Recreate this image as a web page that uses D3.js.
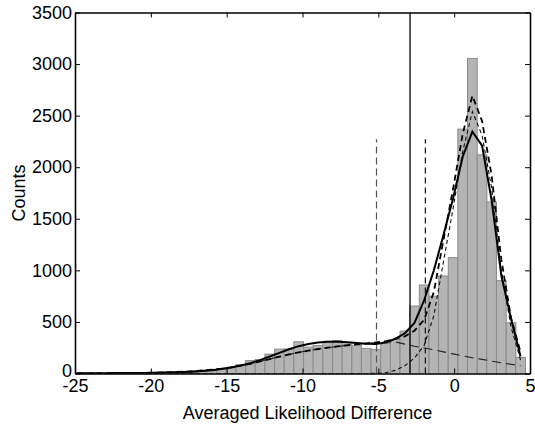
<!DOCTYPE html>
<html><head><meta charset="utf-8">
<script src="https://cdn.jsdelivr.net/npm/d3@7"></script>
<style>
html,body{margin:0;padding:0;background:#fff;}
svg{display:block;font-family:"Liberation Sans",Arial,Helvetica,sans-serif;}
</style></head>
<body><svg id="c" width="535" height="428"></svg>
<script>
// ---- data ----
const binCenters = [-24.89,-24.25,-23.62,-22.98,-22.34,-21.71,-21.07,-20.43,-19.80,-19.16,-18.52,-17.89,-17.25,-16.61,-15.98,-15.34,-14.71,-14.07,-13.43,-12.80,-12.16,-11.52,-10.89,-10.25,-9.61,-8.98,-8.34,-7.70,-7.07,-6.43,-5.80,-5.16,-4.52,-3.89,-3.25,-2.62,-1.98,-1.34,-0.71,-0.07,0.56,1.20,1.84,2.47,3.11,3.75,4.38];
const binWidth = 0.637;
const counts = [1,1,1,2,2,3,3,4,6,7,10,12,16,22,30,40,55,85,125,135,188,236,238,308,256,272,312,320,285,272,244,233,290,330,411,654,858,750,945,1123,2369,3055,2120,1663,900,492,155];
// overall fit (solid)
const fitSolid = [2,2,3,3,4,4,5,5,7,9,11,14,18,24,32,43,58,77,100,130,165,200,235,265,285,300,308,308,302,295,289,287,300,335,390,490,710,1000,1340,1700,2100,2345,2210,1680,950,530,165];
// mixture total (thick dashed)
const fitTotal = [1,1,2,2,3,4,5,6,8,10,13,17,22,29,37,47,60,76,95,117,140,163,185,205,222,237,250,262,273,283,292,301,312,336,360,415,520,790,1290,1790,2320,2693,2447,1920,1104,539,205];
// broad component (long dashed)
const fitBroad = [1,1,2,2,3,4,5,6,8,10,13,17,22,29,37,47,60,76,95,117,140,163,185,205,222,237,250,262,273,283,292,299,304,306,285,265,248,230,210,190,170,153,137,120,104,89,75];
// narrow component (thin dashed)
const fitNarrow = [0,0,0,0,0,0,0,0,0,0,0,0,0,0,0,0,0,0,0,0,0,0,0,0,0,0,0,0,0,0,0,2,8,30,75,150,272,560,1080,1600,2150,2540,2310,1800,1000,450,130];
const dashedMarkers = [-5.12, -1.9];
const dashedMarkerTop = 2270;
const solidMarker = -2.91;
const xTicks = [-25,-20,-15,-10,-5,0,5];
const yTicks = [0,500,1000,1500,2000,2500,3000,3500];
const xLabel = "Averaged Likelihood Difference";
const yLabel = "Counts";

// ---- layout ----
const L = 75, R = 530, T = 12.5, B = 373.5;
const svg = d3.select("#c");
const x = d3.scaleLinear().domain([-25,5]).range([L,R]);
const y = d3.scaleLinear().domain([0,3500]).range([B,T]);

svg.append("defs").append("clipPath").attr("id","clip")
  .append("rect").attr("x",L).attr("y",T).attr("width",R-L).attr("height",B-T);
const g = svg.append("g").attr("clip-path","url(#clip)");

// bars
g.selectAll("rect.bar").data(binCenters).join("rect")
  .attr("class","bar")
  .attr("x", d => x(d - binWidth/2))
  .attr("width", d => x(d + binWidth/2) - x(d - binWidth/2))
  .attr("y", (d,i) => y(counts[i]))
  .attr("height", (d,i) => y(0) - y(counts[i]))
  .attr("fill","#b4b4b4").attr("stroke","#8a8a8a").attr("stroke-width",1);

const line = vals => d3.line().x((d,i)=>x(binCenters[i])).y(d=>y(d))(vals);

// vertical markers
g.append("line").attr("x1",x(solidMarker)).attr("x2",x(solidMarker))
  .attr("y1",y(0)).attr("y2",y(3500)).attr("stroke","#000").attr("stroke-width",1.3);
g.append("line").attr("x1",x(dashedMarkers[0])).attr("x2",x(dashedMarkers[0]))
  .attr("y1",y(0)).attr("y2",y(dashedMarkerTop)).attr("stroke","#555").attr("stroke-width",1.2)
  .attr("stroke-dasharray","7,4");
g.append("line").attr("x1",x(dashedMarkers[1])).attr("x2",x(dashedMarkers[1]))
  .attr("y1",y(0)).attr("y2",y(dashedMarkerTop)).attr("stroke","#111").attr("stroke-width",1.2)
  .attr("stroke-dasharray","6,4");

// curves
g.append("path").attr("d",line(fitBroad)).attr("fill","none").attr("stroke","#222")
  .attr("stroke-width",1.1).attr("stroke-dasharray","9,5");
g.append("path").attr("d",line(fitNarrow)).attr("fill","none").attr("stroke","#111")
  .attr("stroke-width",1.1).attr("stroke-dasharray","4,3");
g.append("path").attr("d",line(fitTotal)).attr("fill","none").attr("stroke","#000")
  .attr("stroke-width",1.8).attr("stroke-dasharray","6,4");
g.append("path").attr("d",line(fitSolid)).attr("fill","none").attr("stroke","#000")
  .attr("stroke-width",2);

// axes (MATLAB style, inward ticks, box)
const fs = "18px";
const ax = svg.append("g").attr("transform",`translate(0,${B})`)
  .call(d3.axisBottom(x).tickValues(xTicks).tickSizeInner(-5).tickSizeOuter(0).tickPadding(6)
    .tickFormat(d3.format("d")));
const ay = svg.append("g").attr("transform",`translate(${L},0)`)
  .call(d3.axisLeft(y).tickValues(yTicks).tickSizeInner(-5).tickSizeOuter(0).tickPadding(3)
    .tickFormat(d3.format("d")));
const at = svg.append("g").attr("transform",`translate(0,${T})`)
  .call(d3.axisTop(x).tickValues(xTicks).tickSizeInner(-5).tickSizeOuter(0).tickFormat(""));
const ar = svg.append("g").attr("transform",`translate(${R},0)`)
  .call(d3.axisRight(y).tickValues(yTicks).tickSizeInner(-5).tickSizeOuter(0).tickFormat(""));
[ax,ay,at,ar].forEach(a=>{
  a.select(".domain").attr("stroke","#000").attr("stroke-width",1.6);
  a.selectAll(".tick line").attr("stroke","#000").attr("stroke-width",1);
  a.selectAll("text").attr("font-size",fs).attr("fill","#000")
    .attr("font-family",'"Liberation Sans",Arial,sans-serif');
});
ax.selectAll(".tick text").text(d => d < 0 ? "-" + Math.abs(d) : String(d));
ay.selectAll(".tick text").filter(d => d === 0).attr("dy","0.15em");

svg.append("text").attr("x",(L+R)/2+5).attr("y",419).attr("text-anchor","middle")
  .attr("font-size",fs).text(xLabel);
svg.append("text").attr("transform",`translate(25,${(T+B)/2}) rotate(-90)`)
  .attr("text-anchor","middle").attr("font-size",fs).text(yLabel);
</script></body></html>
